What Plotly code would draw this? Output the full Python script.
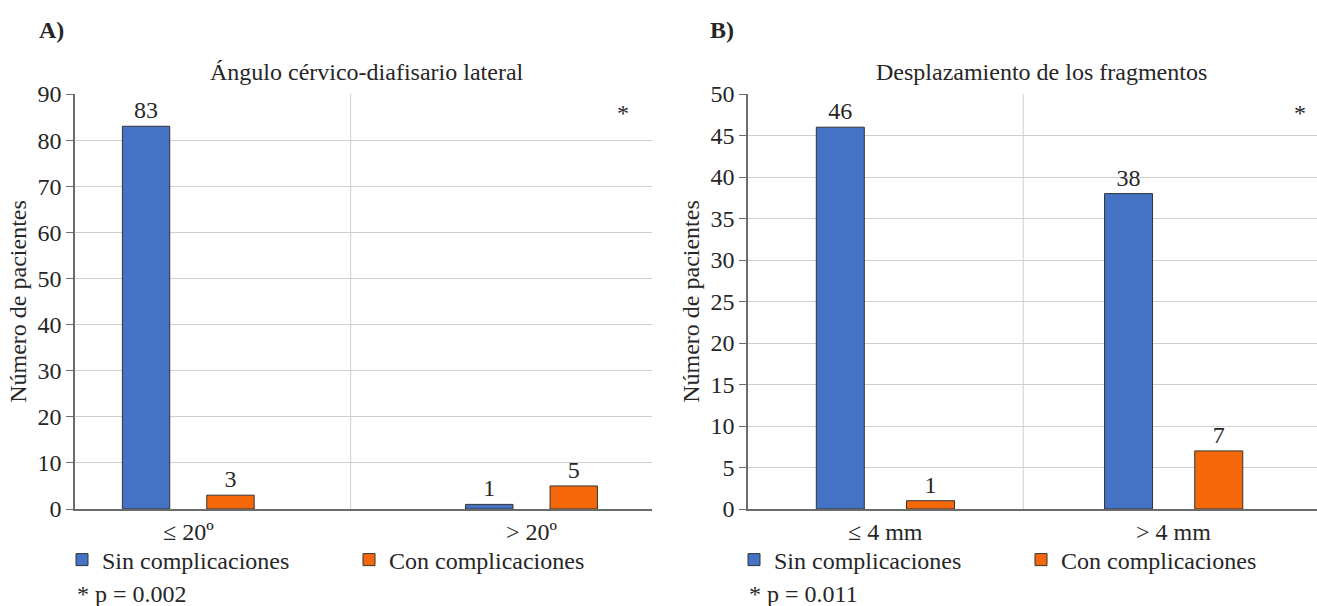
import plotly.graph_objects as go

W, H = 1317, 606

# ---- data ----
cats_a = ["≤ 20º", "> 20º"]
sin_a = [83, 1]
con_a = [3, 5]

cats_b = ["≤ 4 mm", "> 4 mm"]
sin_b = [46, 38]
con_b = [1, 7]

series_names = ["Sin complicaciones", "Con complicaciones"]
title_a = "Ángulo cérvico-diafisario lateral"
title_b = "Desplazamiento de los fragmentos"
ytitle = "Número de pacientes"
pval_a = "* p = 0.002"
pval_b = "* p = 0.011"

BLUE = "#4472C4"
ORANGE = "#F5680A"
TXT = "#262626"
FONT = "Liberation Serif"
FS = 24

def px_x(p):
    return p / W

def px_y(p):
    return (H - p) / H

fig = go.Figure()

# panel geometry (pixels)
A_left, A_right = 75, 652
B_left, B_right = 748, 1317
top, bottom = 94, 509

bar_line = dict(color="#333333", width=1)
tf = dict(size=FS, color=TXT, family=FONT)

# Panel A bars
fig.add_bar(x=cats_a, y=sin_a, name=series_names[0], marker=dict(color=BLUE, line=bar_line),
            width=0.138, offset=-0.192, text=sin_a, textposition="outside", cliponaxis=False,
            textfont=tf, xaxis="x", yaxis="y", legend="legend")
fig.add_bar(x=cats_a, y=con_a, name=series_names[1], marker=dict(color=ORANGE, line=bar_line),
            width=0.138, offset=0.054, text=con_a, textposition="outside", cliponaxis=False,
            textfont=tf, xaxis="x", yaxis="y", legend="legend")
# Panel B bars
fig.add_bar(x=cats_b, y=sin_b, name=series_names[0], marker=dict(color=BLUE, line=bar_line),
            width=0.1665, offset=-0.239, text=sin_b, textposition="outside", cliponaxis=False,
            textfont=tf, xaxis="x2", yaxis="y2", legend="legend2")
fig.add_bar(x=cats_b, y=con_b, name=series_names[1], marker=dict(color=ORANGE, line=bar_line),
            width=0.1665, offset=0.074, text=con_b, textposition="outside", cliponaxis=False,
            textfont=tf, xaxis="x2", yaxis="y2", legend="legend2")

axis_common_x = dict(type="category", showgrid=False, showline=True, linecolor="#6b6b6b", linewidth=1.5,
                     ticks="", tickfont=tf, zeroline=False, fixedrange=True)
axis_common_y = dict(showgrid=True, gridcolor="#d0d0d0", gridwidth=1, showline=True, linecolor="#6b6b6b",
                     linewidth=1.5, ticks="outside", ticklen=7, tickcolor="#6b6b6b",
                     tickfont=tf, zeroline=False,
                     title=dict(text=ytitle, font=tf, standoff=4))

leg_common = dict(orientation="h", xanchor="left", yanchor="middle", entrywidth=242,
                  entrywidthmode="pixels", font=tf, bgcolor="rgba(0,0,0,0)", traceorder="normal")

fig.update_layout(
    width=W, height=H,
    margin=dict(l=0, r=0, t=0, b=0, autoexpand=False),
    paper_bgcolor="white", plot_bgcolor="white",
    font=dict(family=FONT, size=FS, color=TXT),
    barmode="overlay",
    xaxis=dict(domain=[px_x(A_left), px_x(A_right)], range=[-0.330, 1.351], anchor="y", **axis_common_x),
    yaxis=dict(domain=[px_y(bottom), px_y(top)], range=[0, 90], dtick=10, anchor="x", **axis_common_y),
    xaxis2=dict(domain=[px_x(B_left), px_x(B_right)], range=[-0.476, 1.498], anchor="y2", **axis_common_x),
    yaxis2=dict(domain=[px_y(bottom), px_y(top)], range=[0, 50], dtick=5, anchor="x2", **axis_common_y),
    legend=dict(x=px_x(62), y=px_y(560), **leg_common),
    legend2=dict(x=px_x(734), y=px_y(560), **leg_common),
)

# category separator gridlines
fig.add_shape(type="line", xref="x", yref="y domain", x0=0.473, x1=0.473, y0=0, y1=1,
              line=dict(color="#d0d0d0", width=1), layer="below")
fig.add_shape(type="line", xref="x2", yref="y2 domain", x0=0.479, x1=0.479, y0=0, y1=1,
              line=dict(color="#d0d0d0", width=1), layer="below")

ann = [
    dict(text="<b>A)</b>", x=px_x(37), y=px_y(30), xanchor="left"),
    dict(text="<b>B)</b>", x=px_x(708), y=px_y(30), xanchor="left"),
    dict(text=title_a, x=px_x(367), y=px_y(72), xanchor="center"),
    dict(text=title_b, x=px_x(1041), y=px_y(72), xanchor="center"),
    dict(text="*", x=px_x(623), y=px_y(113), xanchor="center"),
    dict(text="*", x=px_x(1300), y=px_y(113), xanchor="center"),
    dict(text=pval_a, x=px_x(75), y=px_y(594), xanchor="left"),
    dict(text=pval_b, x=px_x(747), y=px_y(594), xanchor="left"),
]
for a in ann:
    fig.add_annotation(xref="paper", yref="paper", showarrow=False, yanchor="middle",
                       font=tf, **a)

fig.write_html("out.html")
